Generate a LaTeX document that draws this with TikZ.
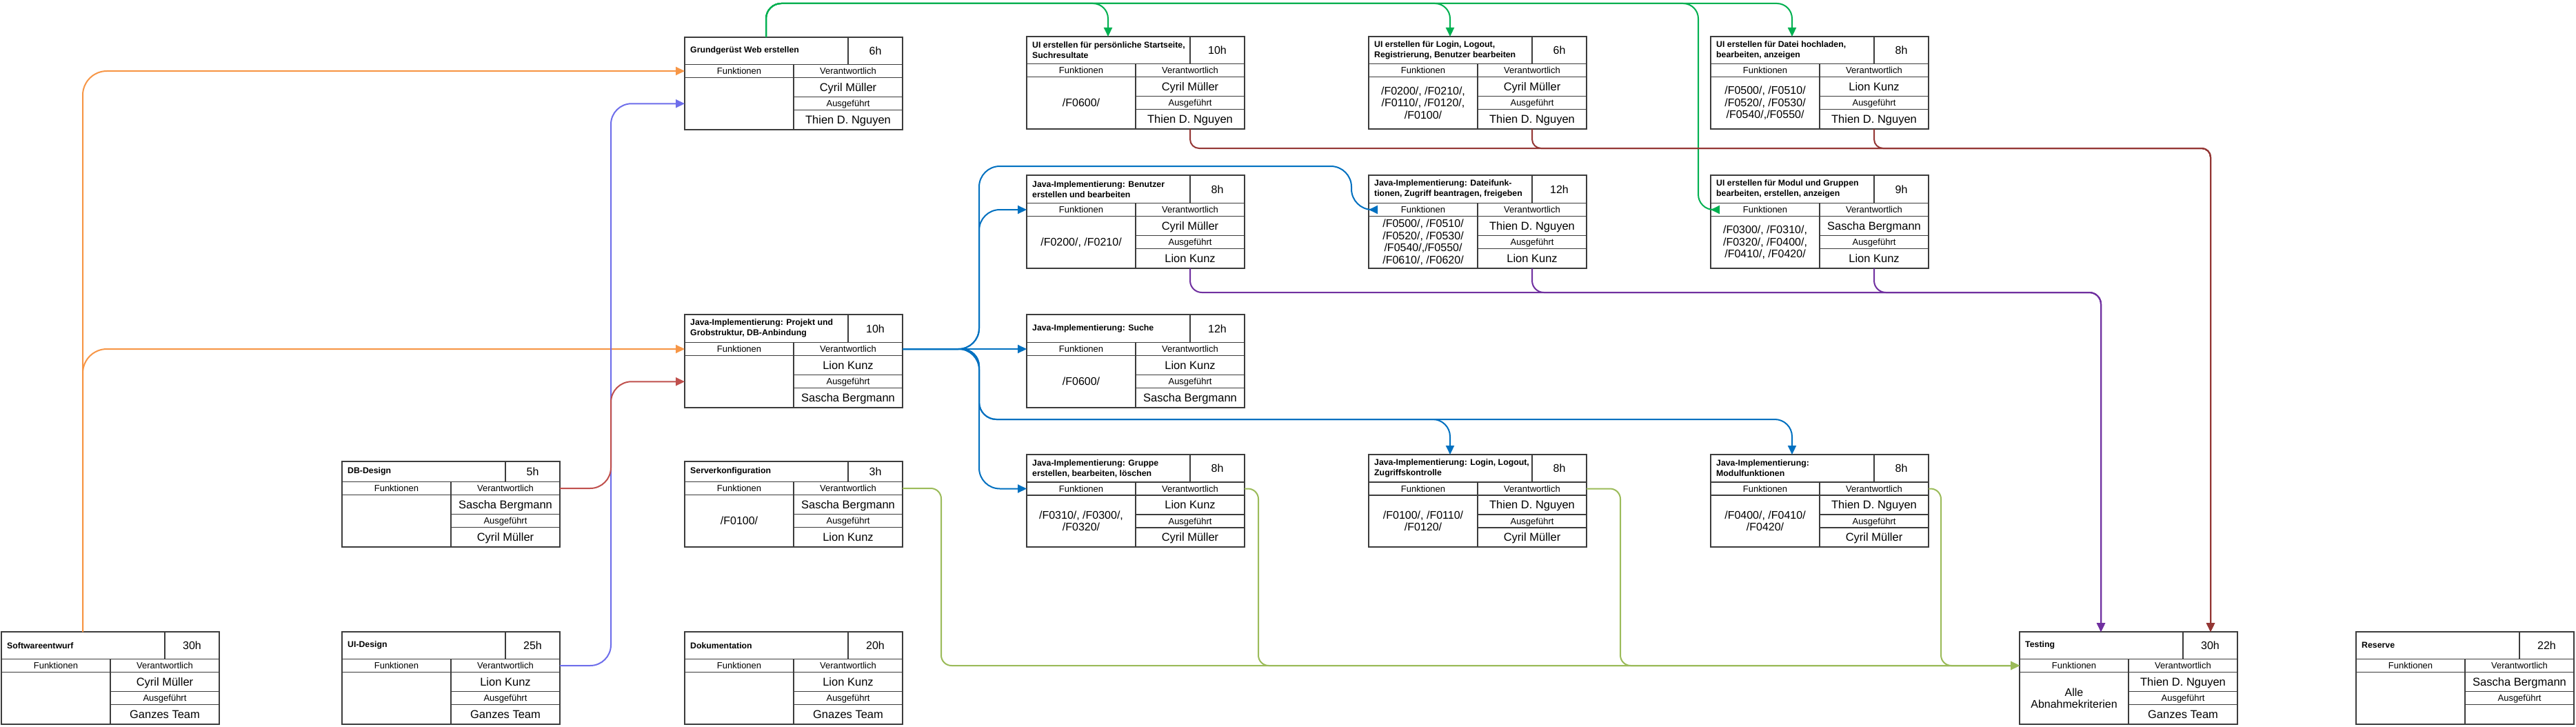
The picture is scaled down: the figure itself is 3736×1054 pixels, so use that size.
\documentclass[tikz,border=0pt]{standalone}
\usepackage{fontspec}
\setmainfont{Liberation Sans}
\usetikzlibrary{arrows.meta}
\definecolor{cFrame}{RGB}{60,60,60}
\definecolor{cOrange}{RGB}{247,150,70}
\definecolor{cViolet}{RGB}{110,110,235}
\definecolor{cRed}{RGB}{192,80,77}
\definecolor{cGreen}{RGB}{0,176,80}
\definecolor{cBlue}{RGB}{0,112,192}
\definecolor{cOlive}{RGB}{155,187,89}
\definecolor{cPurple}{RGB}{112,48,160}
\definecolor{cBrown}{RGB}{148,54,52}
\tikzset{
  boxframe/.style={draw=cFrame, line width=1.6pt, inner sep=0pt, outer sep=0pt, fill=white},
  gridline/.style={draw=cFrame, line width=1.3pt},
  titletxt/.style={font=\bfseries\fontsize{12.3pt}{15pt}\selectfont, align=left, inner sep=0pt, anchor=west},
  hourtxt/.style={font=\fontsize{16pt}{18pt}\selectfont, inner sep=0pt, text height=11.5pt, text depth=0pt},
  labtxt/.style={font=\fontsize{13pt}{15pt}\selectfont, inner sep=0pt, text height=9.3pt, text depth=0pt},
  nametxt/.style={font=\fontsize{16.5pt}{18pt}\selectfont, inner sep=0pt, text height=11.8pt, text depth=0pt},
  functxt/.style={font=\fontsize{16pt}{17.5pt}\selectfont, inner sep=0pt, align=center},
  conn/.style={line width=2pt, -{Triangle[length=13pt,width=12pt]}},
}
% name, X, Y, title, hours, functions, verantwortlich, ausgefuehrt
\newcommand\taskbox[8]{%
  \pgfmathsetmacro\tY{#3+\tTH}%
  \pgfmathsetmacro\tF{\tY+19}%
  \pgfmathsetmacro\tV{(\tBH-\tTH-38)/2}%
  \pgfmathsetmacro\tA{\tF+\tV}%
  \pgfmathsetmacro\tB{\tA+19}%
  \pgfmathsetmacro\tE{#3+\tBH}%
  \node[boxframe, anchor=north west, minimum width=316pt, minimum height=\tBH pt] (#1) at (#2,#3) {};
  \draw[gridline] (#2,\tY) -- ++(316,0) (#2,\tF) -- ++(316,0)
     (#2+237,#3) -- (#2+237,\tY) (#2+158,\tY) -- (#2+158,\tE)
     (#2+158,\tA) -- ++(158,0) (#2+158,\tB) -- ++(158,0);
  \node[titletxt] (#1-title) at ({#2+8},{#3+\tTH/2}) {#4};
  \node[hourtxt] (#1-hours) at ({#2+276.5},{#3+\tTH/2}) {#5};
  \node[labtxt] (#1-flab) at ({#2+79},{\tY+9.5}) {Funktionen};
  \node[labtxt] (#1-vlab) at ({#2+237},{\tY+9.5}) {Verantwortlich};
  \node[functxt] (#1-func) at ({#2+79},{(\tF+\tE)/2}) {#6};
  \node[nametxt] (#1-v) at ({#2+237},{\tF+\tV/2}) {#7};
  \node[labtxt] (#1-alab) at ({#2+237},{\tA+9.5}) {Ausgeführt};
  \node[nametxt] (#1-a) at ({#2+237},{(\tB+\tE)/2}) {#8};
  \coordinate (#1-in) at (#2,{\tY+9.5});
  \coordinate (#1-out) at ({#2+316},{\tY+9.5});
  \coordinate (#1-in2) at (#2,{\tA+9.5});
  \coordinate (#1-top) at ({#2+118},#3);
  \coordinate (#1-top2) at ({#2+277},#3);
  \coordinate (#1-bot) at ({#2+237},\tE);
}
\begin{document}
\begin{tikzpicture}[x=1pt,y=-1pt]
\useasboundingbox (0,0) rectangle (3736,1054);
\fill[white] (0,0) rectangle (3736,1054);

\def\tTH{39.5}\def\tBH{134}
\taskbox{GG}{993}{54}{Grundgerüst Web erstellen}{6h}{}{Cyril Müller}{Thien D. Nguyen}
\taskbox{UIS}{1489}{53}{UI erstellen für persönliche Startseite,\\Suchresultate}{10h}{/F0600/}{Cyril Müller}{Thien D. Nguyen}
\taskbox{UIL}{1985}{53}{UI erstellen für Login, Logout,\\Registrierung, Benutzer bearbeiten}{6h}{/F0200/, /F0210/,\\/F0110/, /F0120/,\\/F0100/}{Cyril Müller}{Thien D. Nguyen}
\taskbox{UID}{2481}{53}{UI erstellen für Datei hochladen,\\bearbeiten, anzeigen}{8h}{/F0500/, /F0510/\\/F0520/, /F0530/\\/F0540/,/F0550/}{Lion Kunz}{Thien D. Nguyen}
\def\tTH{40.5}\def\tBH{135}
\taskbox{JB}{1489}{254}{Java-Implementierung: Benutzer\\erstellen und bearbeiten}{8h}{/F0200/, /F0210/}{Cyril Müller}{Lion Kunz}
\taskbox{JD}{1985}{254}{Java-Implementierung: Dateifunk-\\tionen, Zugriff beantragen, freigeben}{12h}{/F0500/, /F0510/\\/F0520/, /F0530/\\/F0540/,/F0550/\\/F0610/, /F0620/}{Thien D. Nguyen}{Lion Kunz}
\taskbox{UIM}{2481}{254}{UI erstellen für Modul und Gruppen\\bearbeiten, erstellen, anzeigen}{9h}{/F0300/, /F0310/,\\/F0320/, /F0400/,\\/F0410/, /F0420/}{Sascha Bergmann}{Lion Kunz}
\taskbox{JP}{993}{456}{Java-Implementierung: Projekt und\\Grobstruktur, DB-Anbindung}{10h}{}{Lion Kunz}{Sascha Bergmann}
\taskbox{JS}{1489}{456}{Java-Implementierung: Suche}{12h}{/F0600/}{Lion Kunz}{Sascha Bergmann}
\def\tTH{40}\def\tBH{134}
\taskbox{G}{1489}{659}{Java-Implementierung: Gruppe\\erstellen, bearbeiten, löschen}{8h}{/F0310/, /F0300/,\\/F0320/}{Lion Kunz}{Cyril Müller}
\taskbox{JL}{1985}{659}{Java-Implementierung: Login, Logout,\\Zugriffskontrolle}{8h}{/F0100/, /F0110/\\/F0120/}{Thien D. Nguyen}{Cyril Müller}
\taskbox{JM}{2481}{659}{Java-Implementierung:\\Modulfunktionen}{8h}{/F0400/, /F0410/\\/F0420/}{Thien D. Nguyen}{Cyril Müller}
\def\tTH{29.5}\def\tBH{124}
\taskbox{DB}{496}{669}{DB-Design}{5h}{}{Sascha Bergmann}{Cyril Müller}
\taskbox{SV}{993}{669}{Serverkonfiguration}{3h}{/F0100/}{Sascha Bergmann}{Lion Kunz}
\def\tTH{39.5}\def\tBH{134}
\taskbox{SE}{2}{916}{Softwareentwurf}{30h}{}{Cyril Müller}{Ganzes Team}
\taskbox{UI}{496}{916}{UI-Design}{25h}{}{Lion Kunz}{Ganzes Team}
\taskbox{DOK}{993}{916}{Dokumentation}{20h}{}{Lion Kunz}{Gnazes Team}
\taskbox{T}{2929}{916}{Testing}{30h}{Alle\\Abnahmekriterien}{Thien D. Nguyen}{Ganzes Team}
\taskbox{R}{3417}{916}{Reserve}{22h}{}{Sascha Bergmann}{}

% orange
\draw[conn, cOrange, rounded corners=35pt] (SE-top) |- (GG-in);
\draw[conn, cOrange, rounded corners=35pt] (SE-top) |- (JP-in);
% violet and red
\draw[conn, cViolet, rounded corners=30pt] (UI-out) -- ++(74,0) |- (GG-in2);
\draw[conn, cRed, rounded corners=30pt] (DB-out) -- ++(74,0) |- (JP-in2);
% green
\path (GG-top) ++(0,-49) coordinate (gbus);
\path (UIM-in) ++(-18,0) coordinate (gx);
\coordinate (gdrop) at (gbus -| gx);
\draw[conn, cGreen, rounded corners=22pt] (GG-top) -- (gbus) -| (UIS-top);
\draw[conn, cGreen, rounded corners=22pt] (GG-top) -- (gbus) -| (UIL-top);
\draw[conn, cGreen, rounded corners=22pt] (GG-top) -- (gbus) -| (UID-top);
\draw[conn, cGreen, rounded corners=22pt] (GG-top) -- (gbus) -- (gdrop) |- (UIM-in);
% blue
\path (JP-out) ++(111,0) coordinate (bsplit);
\path (bsplit) ++(0,-265) coordinate (btop);
\path (JD-in) ++(-25,0) coordinate (bx);
\coordinate (btopR) at (btop -| bx);
\path (JL-top) ++(0,-51) coordinate (bl1);
\path (JM-top) ++(0,-51) coordinate (bl2);
\draw[conn, cBlue] (JP-out) -- (JS-in);
\draw[conn, cBlue, rounded corners=30pt] (JP-out) -- (bsplit) |- (JB-in);
\draw[conn, cBlue, rounded corners=30pt] (JP-out) -- (bsplit) -- (btop) -- (btopR) |- (JD-in);
\draw[conn, cBlue, rounded corners=30pt] (JP-out) -- (bsplit) |- (G-in);
\draw[conn, cBlue, rounded corners=25pt] (JP-out) -- (bsplit) |- (bl1) -- (JL-top);
\draw[conn, cBlue, rounded corners=25pt] (JP-out) -- (bsplit) |- (bl2) -- (JM-top);
% olive
\draw[conn, cOlive, rounded corners=15pt] (SV-out) -- ++(56,0) |- (T-in);
\draw[conn, cOlive, rounded corners=15pt] (G-out) -- ++(20,0) |- (T-in);
\draw[conn, cOlive, rounded corners=15pt] (JL-out) -- ++(49,0) |- (T-in);
\draw[conn, cOlive, rounded corners=15pt] (JM-out) -- ++(18,0) |- (T-in);
% purple
\path (T-top) ++(0,-492) coordinate (pbus);
\draw[conn, cPurple, rounded corners=17pt] (JB-bot) |- (pbus) -- (T-top);
\draw[conn, cPurple, rounded corners=17pt] (JD-bot) |- (pbus) -- (T-top);
\draw[conn, cPurple, rounded corners=17pt] (UIM-bot) |- (pbus) -- (T-top);
% brown
\path (T-top2) ++(0,-701) coordinate (rbus);
\draw[conn, cBrown, rounded corners=13pt] (UIS-bot) |- (rbus) -- (T-top2);
\draw[conn, cBrown, rounded corners=13pt] (UIL-bot) |- (rbus) -- (T-top2);
\draw[conn, cBrown, rounded corners=13pt] (UID-bot) |- (rbus) -- (T-top2);
\end{tikzpicture}
\end{document}
